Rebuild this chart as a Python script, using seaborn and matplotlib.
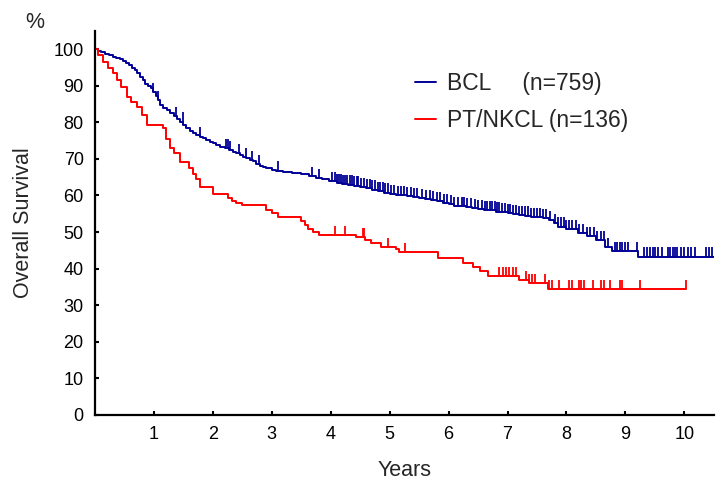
import numpy as np
import pandas as pd
import seaborn as sns
import matplotlib.pyplot as plt
from matplotlib.lines import Line2D

# Kaplan-Meier steps (years, % surviving)
bcl_time = [0, 0.05, 0.10, 0.17, 0.24, 0.30, 0.36, 0.42, 0.48, 0.53, 0.58, 0.63, 0.68, 0.72,
            0.77, 0.81, 0.85, 0.90, 0.95, 0.99, 1.03, 1.07, 1.11, 1.16, 1.22, 1.28, 1.34, 1.40,
            1.45, 1.50, 1.55, 1.61, 1.67, 1.72, 1.78, 1.84, 1.89, 1.95, 2.00, 2.06, 2.12, 2.20,
            2.28, 2.34, 2.40, 2.46, 2.52, 2.57, 2.63, 2.68, 2.74, 2.80, 2.86, 2.91, 3.00, 3.08,
            3.20, 3.35, 3.50, 3.64, 3.75, 3.85, 3.97, 4.10, 4.20, 4.30, 4.40, 4.50, 4.60, 4.70,
            4.80, 4.90, 5.00, 5.10, 5.20, 5.30, 5.40, 5.50, 5.60, 5.70, 5.80, 5.90, 6.00, 6.10,
            6.20, 6.30, 6.40, 6.50, 6.60, 6.70, 6.80, 6.90, 7.00, 7.10, 7.20, 7.30, 7.40, 7.50,
            7.60, 7.70, 7.78, 7.85, 8.00, 8.20, 8.34, 8.50, 8.66, 8.78, 9.22, 10.5]
bcl_surv = [100, 99.6, 99.2, 98.8, 98.3, 98.0, 97.7, 97.2, 96.7, 96.2, 95.6, 95.0, 94.3, 93.4,
            92.4, 91.5, 90.6, 89.9, 89.3, 88.2, 87.2, 86.0, 84.8, 84.0, 83.3, 82.5, 81.8, 81.0,
            80.2, 79.3, 78.4, 77.7, 77.0, 76.6, 76.1, 75.6, 75.2, 74.7, 74.3, 73.8, 73.2, 72.9,
            72.4, 72.0, 71.5, 71.1, 70.6, 70.2, 69.7, 69.3, 68.7, 68.1, 67.8, 67.5, 67.1, 66.8,
            66.5, 66.2, 65.8, 65.2, 64.8, 64.4, 63.9, 63.4, 63.2, 63.0, 62.7, 62.4, 62.0, 61.6,
            61.2, 60.8, 60.5, 60.2, 60.0, 59.8, 59.5, 59.3, 59.1, 58.8, 58.4, 58.0, 57.6, 57.2,
            57.0, 56.8, 56.5, 56.3, 56.1, 55.9, 55.6, 55.4, 55.1, 54.8, 54.7, 54.5, 54.2, 54.0,
            53.7, 53.3, 52.5, 51.5, 50.8, 49.7, 49.0, 47.9, 46.0, 44.7, 43.3, 43.3]

ptnk_time = [0, 0.05, 0.14, 0.22, 0.31, 0.38, 0.45, 0.54, 0.62, 0.71, 0.80, 0.88, 1.16, 1.21,
             1.27, 1.34, 1.44, 1.60, 1.66, 1.72, 1.78, 2.00, 2.26, 2.32, 2.40, 2.49, 2.90, 3.00,
             3.11, 3.50, 3.56, 3.62, 3.70, 3.81, 4.43, 4.58, 4.69, 4.86, 5.11, 5.16, 5.82, 6.24,
             6.41, 6.53, 6.67, 7.20, 7.36, 7.68, 10.03]
ptnk_surv = [100, 98.5, 96.6, 95.0, 93.4, 91.5, 89.8, 87.0, 85.5, 84.3, 82.0, 79.3, 78.5, 75.5,
             73.0, 71.5, 69.1, 67.5, 66.0, 64.5, 62.4, 60.4, 59.2, 58.5, 57.9, 57.3, 56.1, 55.1,
             54.2, 53.0, 51.8, 50.8, 50.0, 49.2, 48.6, 47.9, 46.9, 46.0, 45.3, 44.5, 42.8, 41.5,
             40.4, 39.2, 38.0, 36.9, 36.0, 34.5, 34.5]

# censored observations (years)
bcl_cens = [0.99, 1.07, 1.38, 1.49, 1.78, 2.23, 2.26, 2.29, 2.45, 2.56, 2.66, 2.78, 3.11, 3.69,
            3.80, 4.03, 4.07, 4.10, 4.14, 4.17, 4.21, 4.25, 4.28, 4.32, 4.36, 4.40, 4.44, 4.47,
            4.52, 4.57, 4.62, 4.66, 4.70, 4.75, 4.80, 4.84, 4.88, 4.93, 4.97, 5.02, 5.08, 5.14,
            5.20, 5.25, 5.30, 5.36, 5.41, 5.47, 5.55, 5.62, 5.68, 5.74, 5.80, 5.86, 5.92, 5.98,
            6.04, 6.10, 6.16, 6.22, 6.27, 6.32, 6.38, 6.44, 6.50, 6.56, 6.62, 6.66, 6.70, 6.74,
            6.78, 6.82, 6.86, 6.90, 6.95, 7.00, 7.05, 7.10, 7.15, 7.20, 7.25, 7.30, 7.35, 7.40,
            7.45, 7.50, 7.55, 7.60, 7.65, 7.72, 7.80, 7.86, 7.90, 7.95, 8.00, 8.05, 8.10, 8.16,
            8.22, 8.28, 8.34, 8.40, 8.46, 8.52, 8.58, 8.64, 8.70, 8.82, 8.86, 8.90, 8.95, 9.00,
            9.05, 9.20, 9.32, 9.36, 9.42, 9.47, 9.50, 9.55, 9.62, 9.72, 9.76, 9.80, 9.84, 9.88,
            9.94, 10.00, 10.06, 10.12, 10.18, 10.36, 10.41, 10.46]
ptnk_cens = [4.08, 4.24, 4.55, 4.56, 4.98, 5.26, 6.86, 6.93, 6.98, 7.02, 7.09, 7.15, 7.32, 7.36,
             7.41, 7.46, 7.64, 7.71, 7.75, 7.88, 8.04, 8.10, 8.21, 8.25, 8.29, 8.45, 8.59, 8.64,
             8.73, 8.90, 8.94, 9.25, 10.03]

labels = ['BCL     (n=759)', 'PT/NKCL (n=136)']
colors = ['#000096', '#ff0000']

sns.set_style('ticks')
plt.rcParams['font.family'] = ['Liberation Sans', 'DejaVu Sans']

fig = plt.figure(figsize=(7.24, 4.84), dpi=100)
ax = fig.add_axes([0.131, 0.143, 0.855, 0.793])

curves = [(bcl_time, bcl_surv, bcl_cens), (ptnk_time, ptnk_surv, ptnk_cens)]
for (t, s, c), col in zip(curves, colors):
    df = pd.DataFrame({'t': t, 's': s})
    sns.lineplot(data=df, x='t', y='s', ax=ax, color=col, lw=1.4,
                 drawstyle='steps-post', estimator=None, sort=False)
    # censor ticks sit on the step value at that time
    idx = np.searchsorted(np.array(t), np.array(c), side='right') - 1
    sc = np.array(s)[idx]
    ax.vlines(c, sc, sc + 2.5, color=col, lw=1.3)

ax.set_xlim(0, 10.5)
ax.set_ylim(0, 105)
ax.set_xticks(range(1, 11))
ax.set_yticks(range(0, 101, 10))
ax.tick_params(direction='in', length=3, width=1.5, labelsize=13, colors='black')
ax.tick_params(axis='y', pad=8)
ax.tick_params(axis='x', pad=8)
for side in ['top', 'right']:
    ax.spines[side].set_visible(False)
for side in ['left', 'bottom']:
    ax.spines[side].set_linewidth(1.6)
    ax.spines[side].set_color('black')

ax.set_xlabel('Years', fontsize=15.5, labelpad=12)
ax.set_ylabel('Overall Survival', fontsize=15.5, labelpad=14)
fig.text(35 / 724, 1 - 22 / 484, '%', fontsize=15.5, ha='center', va='center')

handles = [Line2D([], [], color=col, lw=1.4) for col in colors]
ax.legend(handles, labels, frameon=False, fontsize=16.5, handlelength=0.9,
          handletextpad=0.5, labelspacing=0.65, borderpad=0, borderaxespad=0,
          loc='center left', bbox_to_anchor=(415 / 724, 1 - 102 / 484),
          bbox_transform=fig.transFigure)

plt.savefig('out.png', dpi=100)
